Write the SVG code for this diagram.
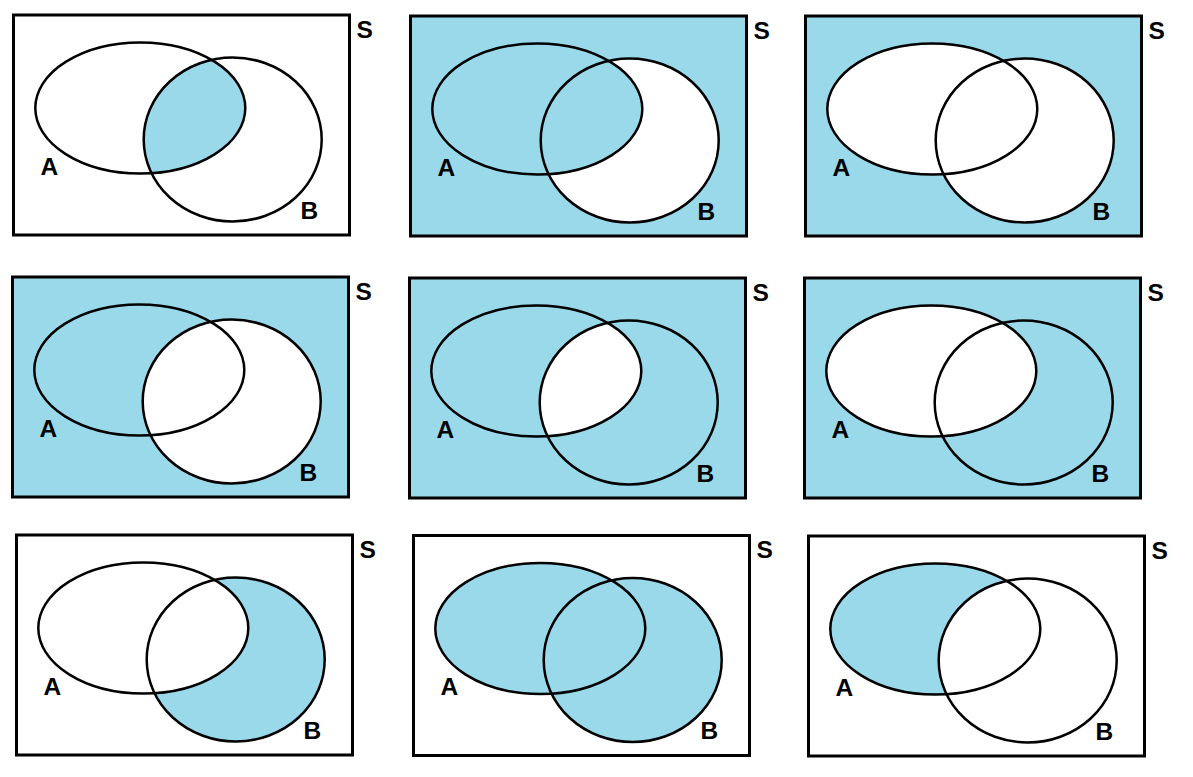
<svg xmlns="http://www.w3.org/2000/svg" xmlns:xlink="http://www.w3.org/1999/xlink" width="1193" height="777" viewBox="0 0 1193 777">
<style>
.bg{fill:#ffffff}
.frame{fill:none;stroke:#000;stroke-width:3}
.blue{fill:#99d9ea}
.white{fill:#ffffff}
.ring{fill:none;stroke:#000;stroke-width:2.5}
.lbl{font-family:"Liberation Sans",Arial,sans-serif;font-weight:bold;font-size:24.5px;fill:#000}
</style>
<defs>
<rect id="box" x="13.5" y="15" width="336" height="220"/>
<ellipse id="ea" cx="140.3" cy="108" rx="105" ry="65.5"/>
<ellipse id="eb" cx="232.7" cy="139.5" rx="89" ry="82"/>
<clipPath id="clipB"><ellipse cx="232.7" cy="139.5" rx="89" ry="82"/></clipPath>
<g id="outline">
<use xlink:href="#box" class="frame"/>
<use xlink:href="#ea" class="ring"/>
<use xlink:href="#eb" class="ring"/>
<text class="lbl" x="40.5" y="174.5">A</text>
<text class="lbl" x="300.5" y="218.5">B</text>
<text class="lbl" x="356.5" y="37.5">S</text>
</g>
</defs>
<rect width="1193" height="777" fill="#fff"/>

<g id="panel1" transform="translate(0,0)">
<use xlink:href="#box" class="white"/>
<use xlink:href="#ea" class="blue" clip-path="url(#clipB)"/>
<use xlink:href="#outline"/>
</g>

<g id="panel2" transform="translate(397,1)">
<use xlink:href="#box" class="blue"/>
<use xlink:href="#eb" class="white"/>
<use xlink:href="#ea" class="blue"/>
<use xlink:href="#outline"/>
</g>

<g id="panel3" transform="translate(792,1)">
<use xlink:href="#box" class="blue"/>
<use xlink:href="#ea" class="white"/>
<use xlink:href="#eb" class="white"/>
<use xlink:href="#outline"/>
</g>

<g id="panel4" transform="translate(-1,262)">
<use xlink:href="#box" class="blue"/>
<use xlink:href="#eb" class="white"/>
<use xlink:href="#outline"/>
</g>

<g id="panel5" transform="translate(396,263)">
<use xlink:href="#box" class="blue"/>
<use xlink:href="#ea" class="white" clip-path="url(#clipB)"/>
<use xlink:href="#outline"/>
</g>

<g id="panel6" transform="translate(791,263)">
<use xlink:href="#box" class="blue"/>
<use xlink:href="#ea" class="white"/>
<use xlink:href="#outline"/>
</g>

<g id="panel7" transform="translate(3,520)">
<use xlink:href="#box" class="white"/>
<use xlink:href="#eb" class="blue"/>
<use xlink:href="#ea" class="white"/>
<use xlink:href="#outline"/>
</g>

<g id="panel8" transform="translate(400,520.5)">
<use xlink:href="#box" class="white"/>
<use xlink:href="#ea" class="blue"/>
<use xlink:href="#eb" class="blue"/>
<use xlink:href="#outline"/>
</g>

<g id="panel9" transform="translate(795,521)">
<use xlink:href="#box" class="white"/>
<use xlink:href="#ea" class="blue"/>
<use xlink:href="#eb" class="white"/>
<use xlink:href="#outline"/>
</g>

<g id="connectors"/>
</svg>
